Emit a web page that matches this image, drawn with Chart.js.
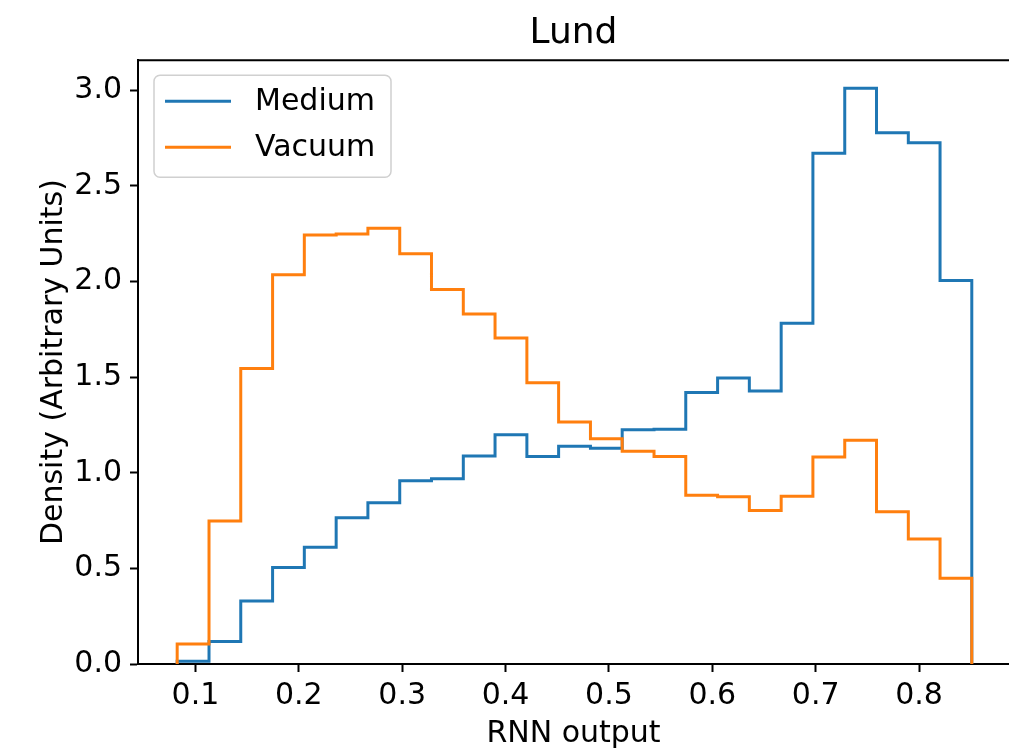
<!DOCTYPE html>
<html>
<head>
<meta charset="utf-8">
<title>Lund</title>
<script src="https://cdn.jsdelivr.net/npm/chart.js@4.4.1/dist/chart.umd.min.js"></script>
<style>
    body { margin: 0; background: #ffffff; }
    #lundChart { display: block; }
</style>
</head>
<body>
<canvas id="lundChart" width="1009" height="754"></canvas>
<script>
"use strict";

// histogram bin edges (26 edges -> 25 bins)
var binEdges = [0.0823, 0.1131, 0.1438, 0.1746, 0.2053, 0.2361, 0.2668, 0.2976, 0.3283,
    0.3591, 0.3898, 0.4206, 0.4513, 0.4821, 0.5128, 0.5436, 0.5743, 0.6051, 0.6358,
    0.6666, 0.6973, 0.7281, 0.7588, 0.7896, 0.8203, 0.8510];

var mediumDensity = [0.014, 0.118, 0.330, 0.505, 0.610, 0.765, 0.843, 0.958, 0.968,
    1.088, 1.198, 1.085, 1.138, 1.128, 1.225, 1.228, 1.420, 1.495, 1.428, 1.782,
    2.670, 3.010, 2.778, 2.725, 2.005];

var vacuumDensity = [0.105, 0.748, 1.545, 2.035, 2.243, 2.248, 2.278, 2.145, 1.958,
    1.830, 1.705, 1.470, 1.265, 1.178, 1.112, 1.085, 0.882, 0.875, 0.802, 0.877,
    1.082, 1.170, 0.796, 0.654, 0.448];

var xTickValues = [0.1, 0.2, 0.3, 0.4, 0.5, 0.6, 0.7, 0.8];
var yTickValues = [0.0, 0.5, 1.0, 1.5, 2.0, 2.5, 3.0];

var seriesLabels = ["Medium", "Vacuum"];
var seriesColors = ["#1f77b4", "#ff7f0e"];

var fontFamily = "'DejaVu Sans', sans-serif";

// outline of a step histogram: up at the first edge, across each bin, down at the last edge
function stepPoints(edges, values) {
    var pts = [{ x: edges[0], y: 0 }, { x: edges[0], y: values[0] }];
    for (var i = 1; i < values.length; i++) {
        pts.push({ x: edges[i], y: values[i] });
    }
    pts.push({ x: edges[edges.length - 1], y: 0 });
    return pts;
}

function fixedTicks(values) {
    return function (scale) {
        scale.ticks = values.map(function (v) { return { value: v }; });
    };
}

// top spine and the boxed legend in the upper left corner
var framePlugin = {
    id: "frame",
    afterDraw: function (chart) {
        var ctx = chart.ctx;
        var area = chart.chartArea;
        ctx.save();
        ctx.strokeStyle = "#000000";
        ctx.lineWidth = 2;
        ctx.beginPath();
        ctx.moveTo(area.left - 1, area.top);
        ctx.lineTo(area.right, area.top);
        ctx.stroke();

        var bx = area.left + 16, by = area.top + 15, bw = 237, bh = 102, r = 6;
        ctx.fillStyle = "rgba(255,255,255,0.8)";
        ctx.strokeStyle = "#d0d0d0";
        ctx.lineWidth = 1.5;
        ctx.beginPath();
        ctx.moveTo(bx + r, by);
        ctx.arcTo(bx + bw, by, bx + bw, by + bh, r);
        ctx.arcTo(bx + bw, by + bh, bx, by + bh, r);
        ctx.arcTo(bx, by + bh, bx, by, r);
        ctx.arcTo(bx, by, bx + bw, by, r);
        ctx.closePath();
        ctx.fill();
        ctx.stroke();

        ctx.font = "30px " + fontFamily;
        ctx.textBaseline = "middle";
        ctx.textAlign = "left";
        chart.data.datasets.forEach(function (ds, i) {
            var y = by + 26 + i * 46;
            ctx.strokeStyle = ds.borderColor;
            ctx.lineWidth = 3;
            ctx.beginPath();
            ctx.moveTo(bx + 11, y);
            ctx.lineTo(bx + 77, y);
            ctx.stroke();
            ctx.fillStyle = "#000000";
            ctx.fillText(ds.label, bx + 101, y + 1);
        });
        ctx.restore();
    }
};

var ctx = document.getElementById("lundChart");

var lundChart = new Chart(ctx, {
    type: "line",
    data: {
        datasets: [{
            label: seriesLabels[0],
            data: stepPoints(binEdges, mediumDensity),
            borderColor: seriesColors[0],
            order: 1
        }, {
            label: seriesLabels[1],
            data: stepPoints(binEdges, vacuumDensity),
            borderColor: seriesColors[1],
            order: 0
        }]
    },
    options: {
        responsive: false,
        animation: false,
        layout: { padding: 0 },
        elements: {
            line: {
                stepped: "before",
                borderWidth: 3,
                fill: false,
                tension: 0,
                borderJoinStyle: "miter",
                borderCapStyle: "butt"
            },
            point: { radius: 0, hoverRadius: 0 }
        },
        plugins: {
            legend: { display: false },
            tooltip: { enabled: false },
            title: {
                display: true,
                text: "Lund",
                fullSize: false,
                color: "#000000",
                font: { family: fontFamily, size: 36, weight: "normal" },
                padding: { top: 12, bottom: 5 }
            }
        },
        scales: {
            x: {
                type: "linear",
                min: 0.0444,
                max: 0.887,
                afterBuildTicks: fixedTicks(xTickValues),
                afterFit: function (scale) { scale.height = 90; },
                grid: {
                    drawOnChartArea: false,
                    drawTicks: true,
                    tickLength: 8,
                    tickWidth: 2,
                    tickColor: "#000000"
                },
                border: { display: true, color: "#000000", width: 2 },
                ticks: {
                    color: "#000000",
                    padding: 6,
                    maxRotation: 0,
                    font: { family: fontFamily, size: 30 },
                    callback: function (v) { return v.toFixed(1); }
                },
                title: {
                    display: true,
                    text: "RNN output",
                    color: "#000000",
                    font: { family: fontFamily, size: 30 },
                    padding: { top: 0, bottom: 2 }
                }
            },
            y: {
                type: "linear",
                min: 0,
                max: 3.157,
                afterBuildTicks: fixedTicks(yTickValues),
                afterFit: function (scale) { scale.width = 138; },
                grid: {
                    drawOnChartArea: false,
                    drawTicks: true,
                    tickLength: 8,
                    tickWidth: 2,
                    tickColor: "#000000"
                },
                border: { display: true, color: "#000000", width: 2 },
                ticks: {
                    color: "#000000",
                    padding: 8,
                    font: { family: fontFamily, size: 30 },
                    callback: function (v) { return v.toFixed(1); }
                },
                title: {
                    display: true,
                    text: "Density (Arbitrary Units)",
                    color: "#000000",
                    font: { family: fontFamily, size: 30 },
                    padding: { top: 36, bottom: 36 }
                }
            }
        }
    },
    plugins: [framePlugin]
});
</script>
</body>
</html>
